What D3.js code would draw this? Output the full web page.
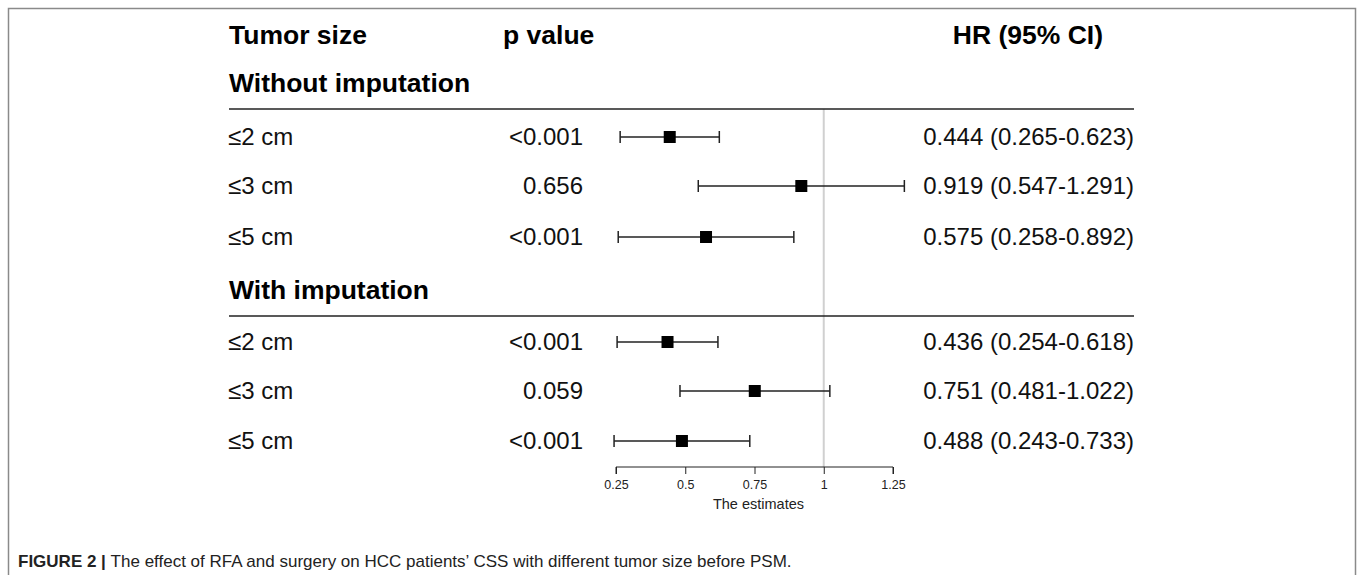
<!DOCTYPE html>
<html><head><meta charset="utf-8">
<script src="https://cdn.jsdelivr.net/npm/d3@7"></script>
<style>body{margin:0;background:#fff}svg{display:block}text{font-family:"Liberation Sans",Arial,sans-serif}</style>
</head><body>
<svg id="c" width="1357" height="575"></svg>
<script>
const sections = ["Without imputation", "With imputation"];
const sizes = ["≤2 cm", "≤3 cm", "≤5 cm"];
const pvalues = [["<0.001", "0.656", "<0.001"], ["<0.001", "0.059", "<0.001"]];
const hr = [[0.444, 0.919, 0.575], [0.436, 0.751, 0.488]];
const lower = [[0.265, 0.547, 0.258], [0.254, 0.481, 0.243]];
const upper = [[0.623, 1.291, 0.892], [0.618, 1.022, 0.733]];
const ticks = [0.25, 0.5, 0.75, 1, 1.25];

const svg = d3.select("#c");
// frame
svg.append("path").attr("d","M8.5,580 V8.5 H1355.5 V580").attr("fill","none").attr("stroke","#8a8a8a").attr("stroke-width",1.5);

const x = d3.scaleLinear().domain([0.25, 1.25]).range([616, 893]);
const fmt = d3.format(".3f");
const HF = 26.5, RF = 24;

// headers
svg.append("text").attr("x",229).attr("y",35).attr("dy","0.35em").attr("font-size",HF).attr("font-weight","bold").text("Tumor size");
svg.append("text").attr("x",503).attr("y",35).attr("dy","0.35em").attr("font-size",HF).attr("font-weight","bold").text("p value");
svg.append("text").attr("x",1103).attr("y",35).attr("dy","0.35em").attr("text-anchor","end").attr("font-size",HF).attr("font-weight","bold").text("HR (95% CI)");

const secY = [83, 290];
const rowY = [[137, 186, 237], [342, 391, 441]];

// reference line
svg.append("line").attr("x1",x(1)).attr("x2",x(1)).attr("y1",109).attr("y2",467).attr("stroke","#d0d0d0").attr("stroke-width",2);

sections.forEach((s,i)=>{
  svg.append("text").attr("x",229).attr("y",secY[i]).attr("dy","0.35em").attr("font-size",HF).attr("font-weight","bold").text(s);
  svg.append("line").attr("x1",229).attr("x2",1134).attr("y1",secY[i]+26).attr("y2",secY[i]+26).attr("stroke","#222").attr("stroke-width",1.5);
  sizes.forEach((sz,j)=>{
    const y = rowY[i][j];
    svg.append("text").attr("x",228).attr("y",y).attr("dy","0.35em").attr("font-size",RF).attr("fill","#111").text(sz);
    svg.append("text").attr("x",583).attr("y",y).attr("dy","0.35em").attr("text-anchor","end").attr("font-size",RF).attr("fill","#111").text(pvalues[i][j]);
    svg.append("text").attr("x",1134).attr("y",y).attr("dy","0.35em").attr("text-anchor","end").attr("font-size",RF).attr("fill","#111")
      .text(`${fmt(hr[i][j])} (${fmt(lower[i][j])}-${fmt(upper[i][j])})`);
    const g = svg.append("g").attr("stroke","#222").attr("stroke-width",1.5);
    g.append("line").attr("x1",x(lower[i][j])).attr("x2",x(upper[i][j])).attr("y1",y).attr("y2",y);
    g.append("line").attr("x1",x(lower[i][j])).attr("x2",x(lower[i][j])).attr("y1",y-6).attr("y2",y+6);
    g.append("line").attr("x1",x(upper[i][j])).attr("x2",x(upper[i][j])).attr("y1",y-6).attr("y2",y+6);
    svg.append("rect").attr("x",x(hr[i][j])-6).attr("y",y-6).attr("width",12).attr("height",12).attr("fill","#000");
  });
});

// axis
const ax = svg.append("g").attr("transform","translate(0,467)")
  .call(d3.axisBottom(x).tickValues(ticks).tickFormat(d3.format("")).tickSize(7).tickPadding(6));
ax.select(".domain").attr("stroke","#222").attr("d",`M${x(0.25)},7V0H${x(1.25)}V7`);
ax.selectAll(".tick line").attr("stroke","#222");
ax.selectAll(".tick text").attr("font-size",12.5).attr("fill","#222").attr("font-family","Liberation Sans, Arial, sans-serif");
svg.append("text").attr("x",x(0.75)+4).attr("y",504).attr("dy","0.35em").attr("text-anchor","middle").attr("font-size",14.5).attr("fill","#222").text("The estimates");

// caption
const cap = svg.append("text").attr("x",18).attr("y",561).attr("dy","0.35em").attr("font-size",17).attr("fill","#222");
cap.append("tspan").attr("font-weight","bold").text("FIGURE 2 | ");
cap.append("tspan").text("The effect of RFA and surgery on HCC patients’ CSS with different tumor size before PSM.");
</script>
</body></html>
